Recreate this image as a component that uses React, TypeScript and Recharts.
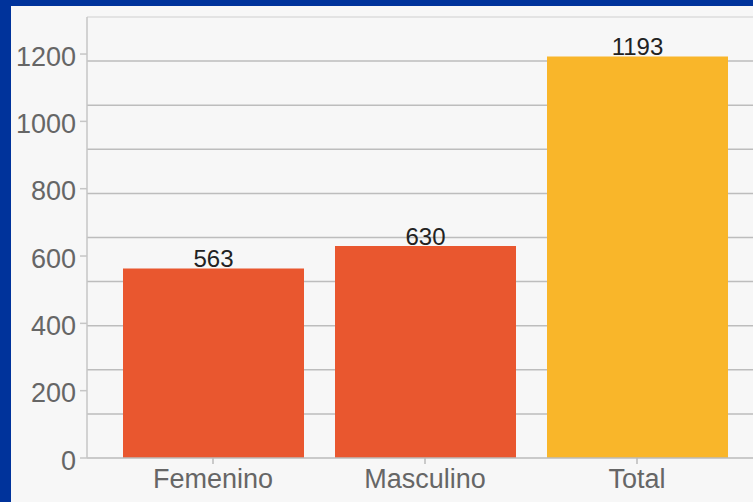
import { BarChart, Bar, CartesianGrid, XAxis, YAxis, Cell, LabelList, ReferenceLine } from 'recharts';

const categories = ['Femenino', 'Masculino', 'Total'];
const counts = [563, 630, 1193];
const yTicks = [0, 200, 400, 600, 800, 1000, 1200];
const gridValues = [131, 262, 393, 524, 655, 786, 917, 1048, 1179];
const yMax = 1310;

const barColors = ['#E9572F', '#E9572F', '#F9B62A'];

const data = categories.map((name, i) => ({ name, value: counts[i] }));

const font = '"Liberation Sans", Arial, sans-serif';

const App = () => {
  return (
    <div
      style={{
        position: 'absolute',
        left: 0,
        top: 0,
        width: 753,
        height: 502,
        overflow: 'hidden',
        background: '#00339B',
        fontFamily: font,
      }}
    >
      <div style={{ position: 'absolute', left: 11, top: 6, width: 760, height: 510, background: '#F7F7F7' }}>
        <BarChart width={752} height={496} data={data} margin={{ top: 11, right: 0, left: 0, bottom: 0 }}>
          <CartesianGrid horizontalValues={gridValues} vertical={false} stroke="#BDBDBD" strokeWidth={1.5} />
          <ReferenceLine y={yMax} stroke="#DCDCDC" strokeWidth={1.5} />
          <XAxis
            dataKey="name"
            padding={{ left: 20, right: 20 }}
            height={44}
            stroke="#BBBBBB"
            strokeWidth={1.5}
            tickSize={6}
            tickMargin={5}
            tick={{ fill: '#666666', fontSize: 27, fontFamily: font }}
          />
          <YAxis
            domain={[0, yMax]}
            ticks={yTicks}
            width={76}
            stroke="#C6C6C6"
            strokeWidth={1.5}
            tickSize={7}
            tickMargin={4}
            tick={{ fill: '#666666', fontSize: 27, fontFamily: font, dy: 2 }}
          />
          <Bar dataKey="value" barSize={181} isAnimationActive={false}>
            {data.map((d, i) => (
              <Cell key={d.name} fill={barColors[i]} />
            ))}
            <LabelList dataKey="value" position="top" offset={1} fill="#222222" fontSize={24} fontFamily={font} />
          </Bar>
        </BarChart>
      </div>
    </div>
  );
};

export default App;
